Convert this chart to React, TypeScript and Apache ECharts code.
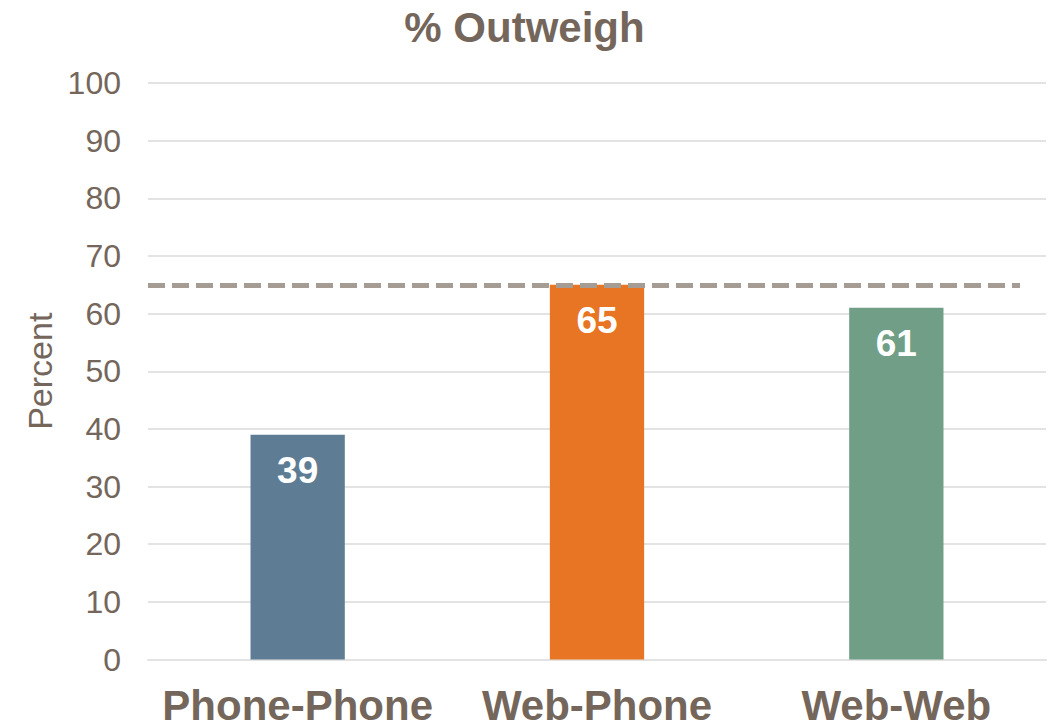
import React, { useEffect, useRef } from "react";
import * as echarts from "echarts";

const categories = ["Phone-Phone", "Web-Phone", "Web-Web"];
const values = [39, 65, 61];
const barColors = ["#5e7d95", "#e87524", "#719e86"];
const referenceLevel = 65;
const yTicks = { min: 0, max: 100, interval: 10 };

const textColor = "#74665b";
const font = "'Liberation Sans', Arial, sans-serif";
const gridLeft = 148;
const refLineEnd = 1020;

export default function App() {
  const ref = useRef<HTMLDivElement>(null);

  useEffect(() => {
    if (!ref.current) return;
    const chart = echarts.init(ref.current, undefined, { renderer: "svg" });
    chart.setOption({
      animation: false,
      backgroundColor: "#ffffff",
      textStyle: { fontFamily: font },
      title: {
        text: "% Outweigh",
        left: "center",
        top: 1,
        textStyle: { fontFamily: font, fontSize: 42, fontWeight: "bold", color: textColor },
      },
      grid: { left: gridLeft, right: 3, top: 83, bottom: 68.5, containLabel: false },
      xAxis: {
        type: "category",
        data: categories,
        axisLine: { show: true, lineStyle: { color: "#e3e3e3", width: 2 } },
        axisTick: { show: false },
        axisLabel: {
          interval: 0,
          hideOverlap: false,
          fontFamily: font,
          fontSize: 42,
          fontWeight: "bold",
          color: textColor,
          margin: 25,
        },
      },
      yAxis: {
        type: "value",
        min: yTicks.min,
        max: yTicks.max,
        interval: yTicks.interval,
        name: "Percent",
        nameLocation: "middle",
        nameRotate: 90,
        nameGap: 91,
        nameTextStyle: { fontFamily: font, fontSize: 34, color: textColor },
        axisLine: { show: false },
        axisTick: { show: false },
        splitLine: { lineStyle: { color: "#e3e3e3", width: 2 } },
        axisLabel: { fontFamily: font, fontSize: 32, color: textColor, margin: 27 },
      },
      series: [
        {
          type: "bar",
          barWidth: "31.5%",
          data: values.map((v, i) => ({ value: v, itemStyle: { color: barColors[i] } })),
          label: {
            show: true,
            position: "insideTop",
            distance: 17,
            color: "#ffffff",
            fontFamily: font,
            fontSize: 37,
            fontWeight: "bold",
          },
          markLine: {
            silent: true,
            symbol: "none",
            label: { show: false },
            lineStyle: { color: "#a59c94", width: 5, type: [17, 7] },
            data: [
              [
                { yAxis: referenceLevel, x: gridLeft },
                { yAxis: referenceLevel, x: refLineEnd },
              ],
            ],
          },
        },
      ],
    });
    return () => chart.dispose();
  }, []);

  return (
    <div
      ref={ref}
      style={{ position: "fixed", left: 0, top: 0, width: 1049, height: 728 }}
    />
  );
}
